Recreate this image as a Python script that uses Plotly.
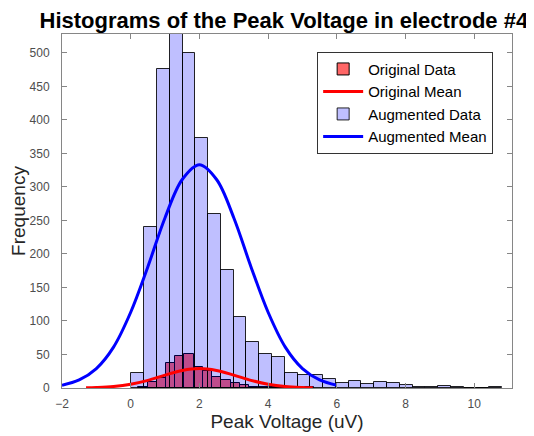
import plotly.graph_objects as go

# histogram counts
orig_start = 0.22
orig_width = 0.269
orig_counts = [1, 9, 15, 38, 48, 50, 32, 26, 16, 12, 8, 5, 2, 2, 1, 1, 1, 0, 1]

aug_start = 0.02
aug_width = 0.372
aug_counts = [23, 240, 476, 540, 500, 373, 260, 176, 106, 69, 50, 46, 23, 19,
              19, 13, 7, 11, 6, 9, 7, 5, 1, 1, 3, 2, 0, 0, 1]

# fitted-normal curves
orig_mean_x = [-1.3, -1.0, -0.5, 0.0, 0.5, 1.0, 1.5, 2.0, 2.5, 3.0, 3.5, 4.0, 4.5, 5.0, 5.3]
orig_mean_y = [0.3, 0.7, 2.2, 5.6, 11.4, 19.2, 26.1, 29.0, 26.1, 19.2, 11.4, 5.6, 2.2, 0.7, 0.3]

aug_mean_x = [-2.0, -1.5, -1.0, -0.5, 0.0, 0.5, 1.0, 1.5, 2.0, 2.5, 3.0, 3.5, 4.0, 4.5, 5.0, 5.5, 6.0]
aug_mean_y = [4, 12, 29, 61, 113, 181, 254, 311, 333, 311, 254, 181, 113, 61, 29, 12, 4]

FONT = "Arial, Liberation Sans, sans-serif"


def centers(start, width, n):
    return [start + width * (i + 0.5) for i in range(n)]


fig = go.Figure()

fig.add_trace(go.Bar(
    x=centers(orig_start, orig_width, len(orig_counts)), y=orig_counts,
    width=orig_width, name="Original Data",
    marker=dict(color="rgba(255,0,0,0.6)", line=dict(color="black", width=1)),
))
fig.add_trace(go.Scatter(
    x=orig_mean_x, y=orig_mean_y, mode="lines", line_shape="spline",
    name="Original Mean", line=dict(color="#ff0000", width=3),
))
fig.add_trace(go.Bar(
    x=centers(aug_start, aug_width, len(aug_counts)), y=aug_counts,
    width=aug_width, name="Augmented Data",
    marker=dict(color="rgba(0,0,255,0.25)", line=dict(color="rgba(0,0,0,0.85)", width=1)),
))
fig.add_trace(go.Scatter(
    x=aug_mean_x, y=aug_mean_y, mode="lines", line_shape="spline",
    name="Augmented Mean", line=dict(color="#0000ff", width=3),
))

axis_common = dict(
    showgrid=False, zeroline=False, showline=True, linecolor="#868686", linewidth=1,
    mirror="allticks", ticks="inside", ticklen=5, tickcolor="#868686",
    automargin=False,
    tickfont=dict(family=FONT, size=12, color="#4d4d4d"),
)

# page body adds an 8px offset, so the figure is 8px smaller than the window
fig.update_layout(
    width=526, height=428,
    margin=dict(l=54, r=22, t=26, b=48),
    paper_bgcolor="white", plot_bgcolor="white",
    barmode="overlay", bargap=0,
    title=dict(text="<b>Histograms of the Peak Voltage in electrode #4</b>",
               x=0.493, xref="paper", y=0.972, yanchor="middle",
               font=dict(family=FONT, size=22, color="black")),
    xaxis=dict(range=[-2, 11.1], tickvals=[-2, 0, 2, 4, 6, 8, 10],
               ticklabelstandoff=5,
               title=dict(text="Peak Voltage (uV)", standoff=2,
                          font=dict(family=FONT, size=19, color="#262626")),
               **axis_common),
    yaxis=dict(range=[0, 528], dtick=50, ticklabelstandoff=9,
               title=dict(text="Frequency", standoff=2,
                          font=dict(family=FONT, size=19, color="#262626")),
               **axis_common),
    legend=dict(x=0.567, y=0.95, xanchor="left", yanchor="top",
                bgcolor="white", bordercolor="#333333", borderwidth=1,
                font=dict(family=FONT, size=15, color="black"),
                tracegroupgap=0, itemwidth=40),
    showlegend=True,
)

fig.write_html("out.html")
